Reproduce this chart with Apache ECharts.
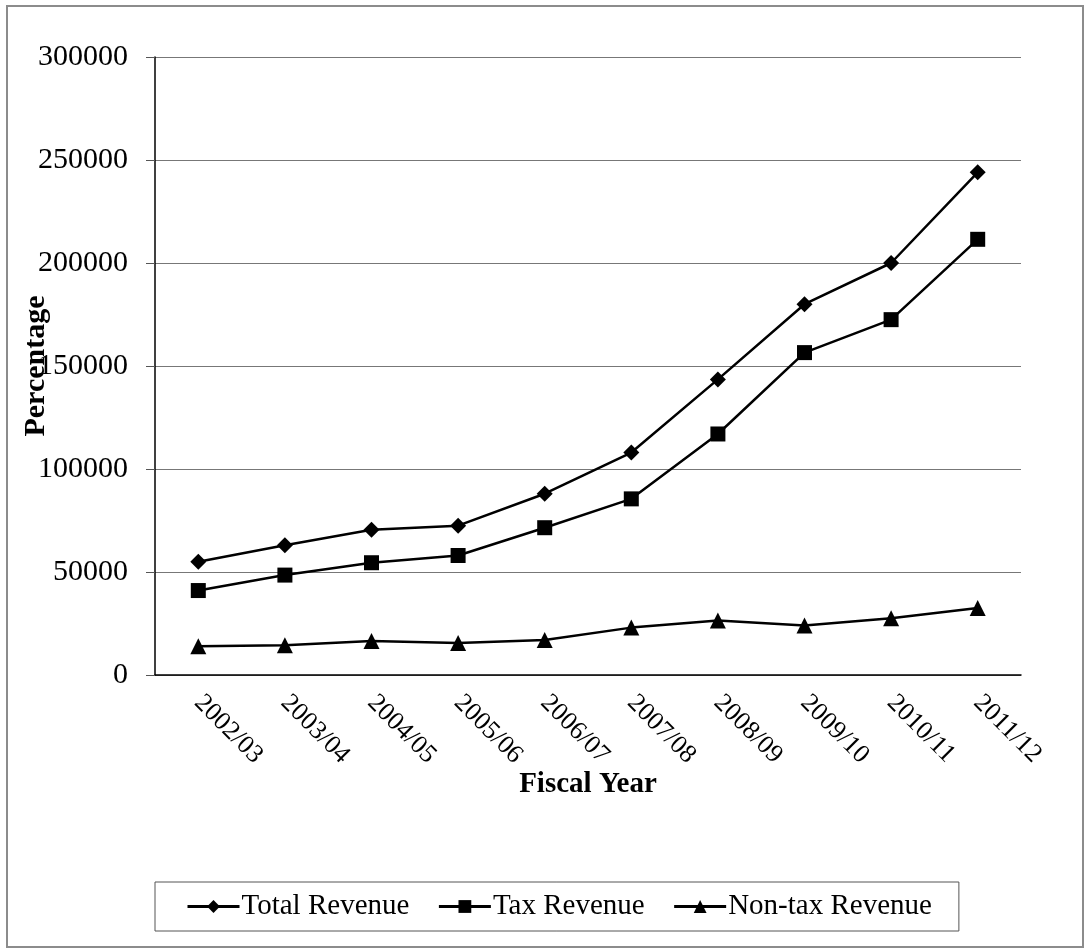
<!DOCTYPE html>
<html>
<head>
<meta charset="utf-8">
<script src="https://cdn.jsdelivr.net/npm/echarts@6/dist/echarts.min.js"></script>
<style>
  html, body { margin: 0; padding: 0; background: #fff; }
  #main { width: 1085px; height: 949px; }
</style>
</head>
<body>
<div id="main"></div>
<script>
// fiscal years and revenue series
const years = ['2002/03', '2003/04', '2004/05', '2005/06', '2006/07', '2007/08', '2008/09', '2009/10', '2010/11', '2011/12']
const totalRevenue = [55000, 63000, 70500, 72500, 88000, 108000, 143500, 180000, 200000, 244000]
const taxRevenue = [41000, 48500, 54500, 58000, 71500, 85500, 117000, 156500, 172500, 211500]
const nonTaxRevenue = [14000, 14500, 16500, 15500, 17000, 23000, 26500, 24000, 27500, 32500]

const serif = "'Liberation Serif', 'Times New Roman', serif"

let chart = echarts.init(document.getElementById('main'), null, { renderer: 'canvas' })

function lineSeries(name, data, symbol, size) {
  return {
    name: name,
    type: 'line',
    data: data,
    symbol: symbol,
    symbolSize: size,
    showAllSymbol: true,
    lineStyle: { color: '#000', width: 2.5 },
    itemStyle: { color: '#000' },
    animation: false
  }
}

chart.setOption({
  backgroundColor: '#fff',
  animation: false,
  graphic: [
    {
      type: 'rect',
      shape: { x: 7, y: 6, width: 1076, height: 941 },
      style: { fill: 'none', stroke: '#8c8c8c', lineWidth: 2 },
      z: -1
    }
  ],
  grid: {
    left: 155,
    right: 64,
    top: 57,
    bottom: 274,
    containLabel: false,
    outerBoundsMode: 'none'
  },
  legend: {
    left: 155,
    top: 882,
    width: 808,
    padding: [10, 27, 10, 31],
    itemWidth: 52,
    itemHeight: 16,
    itemGap: 28,
    borderColor: '#555',
    borderWidth: 1,
    lineStyle: { width: 3 },
    textStyle: { fontFamily: serif, fontSize: 29, color: '#000', padding: [0, 0, 0, -3] },
    data: ['Total Revenue', 'Tax Revenue', 'Non-tax Revenue']
  },
  xAxis: {
    type: 'category',
    data: years,
    boundaryGap: true,
    name: 'Fiscal Year',
    nameLocation: 'middle',
    nameGap: 95,
    nameMoveOverlap: false,
    nameTextStyle: { fontFamily: serif, fontSize: 29, fontWeight: 'bold', color: '#000' },
    axisLine: { lineStyle: { color: '#000', width: 1.5 } },
    axisTick: { alignWithLabel: false, length: 7, lineStyle: { color: '#555' } },
    axisLabel: {
      rotate: -45,
      margin: 24,
      interval: 0,
      fontFamily: serif,
      fontSize: 26,
      color: '#000'
    },
    splitLine: { show: false }
  },
  yAxis: {
    type: 'value',
    min: 0,
    max: 300000,
    interval: 50000,
    name: 'Percentage',
    nameLocation: 'middle',
    nameGap: 104,
    nameMoveOverlap: false,
    nameTextStyle: { fontFamily: serif, fontSize: 30, fontWeight: 'bold', color: '#000' },
    axisLine: { show: true, lineStyle: { color: '#000', width: 1.5 } },
    axisTick: { show: true, length: 9, lineStyle: { color: '#555' } },
    axisLabel: {
      margin: 27,
      fontFamily: serif,
      fontSize: 30,
      color: '#000',
      formatter: v => String(v)
    },
    splitLine: { lineStyle: { color: '#777', width: 1 } }
  },
  series: [
    lineSeries('Total Revenue', totalRevenue, 'diamond', 16),
    lineSeries('Tax Revenue', taxRevenue, 'rect', 15),
    lineSeries('Non-tax Revenue', nonTaxRevenue, 'triangle', 16)
  ]
})
</script>
</body>
</html>
